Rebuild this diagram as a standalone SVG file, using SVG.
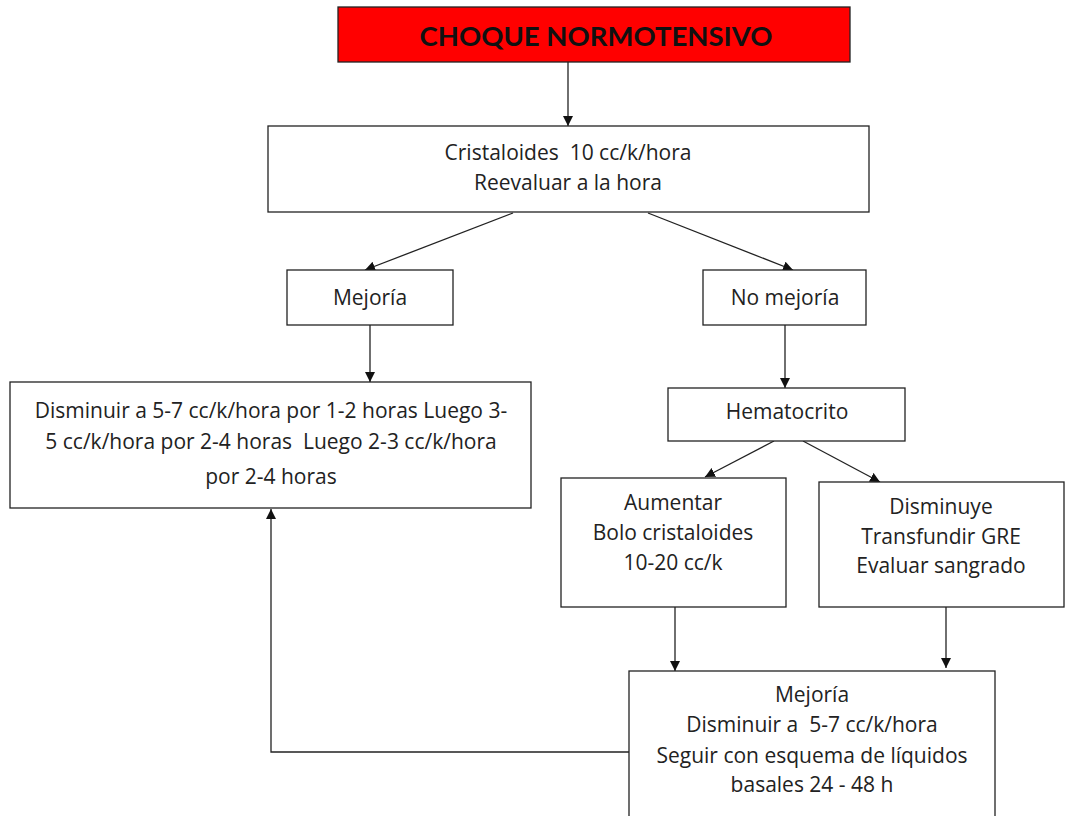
<svg xmlns="http://www.w3.org/2000/svg" width="1065" height="816" viewBox="0 0 1065 816">
<style>
.box{fill:#fff;stroke:#222;stroke-width:1.3}
.t{font-family:"Open Sans",Lato,"Liberation Sans",sans-serif;font-size:21px;fill:#222;text-anchor:middle;white-space:pre}
.c{fill:none;stroke:#222;stroke-width:1.3}
</style>
<defs>
<marker id="ah" viewBox="0 0 10 10" refX="10" refY="5" markerWidth="10" markerHeight="10" markerUnits="userSpaceOnUse" orient="auto">
<path d="M0,0 L10,5 L0,10 z" fill="#111"/>
</marker>
</defs>
<rect width="1065" height="816" fill="#fff"/>
<g id="connectors">
<line class="c" x1="568" y1="62" x2="568" y2="126" marker-end="url(#ah)"/>
<line class="c" x1="513" y1="213" x2="365" y2="270" marker-end="url(#ah)"/>
<line class="c" x1="648" y1="213" x2="793" y2="270" marker-end="url(#ah)"/>
<line class="c" x1="370" y1="325" x2="370" y2="382" marker-end="url(#ah)"/>
<line class="c" x1="785" y1="325" x2="785" y2="388" marker-end="url(#ah)"/>
<line class="c" x1="774" y1="441" x2="705" y2="477" marker-end="url(#ah)"/>
<line class="c" x1="803" y1="441" x2="880" y2="482" marker-end="url(#ah)"/>
<line class="c" x1="675" y1="607" x2="675" y2="671" marker-end="url(#ah)"/>
<line class="c" x1="946" y1="607" x2="946" y2="668" marker-end="url(#ah)"/>
<polyline class="c" points="629,752 271,752 271,509" marker-end="url(#ah)"/>
</g>
<g id="n-choque">
<rect x="338" y="7" width="512" height="55" fill="#ff0000" stroke="#222" stroke-width="1.3"/>
<text x="596" y="46" font-family="Lato,'Open Sans','Liberation Sans',sans-serif" font-size="27.5" font-weight="bold" fill="#111" text-anchor="middle">CHOQUE NORMOTENSIVO</text>
</g>
<g id="n-cristaloides">
<rect class="box" x="268" y="126" width="601" height="86"/>
<text class="t" x="568" y="160">Cristaloides  10 cc/k/hora</text>
<text class="t" x="568" y="190">Reevaluar a la hora</text>
</g>
<g id="n-mejoria">
<rect class="box" x="287" y="270" width="166" height="55"/>
<text class="t" x="370" y="305">Mejoría</text>
</g>
<g id="n-nomejoria">
<rect class="box" x="703" y="270" width="163" height="55"/>
<text class="t" x="785" y="305">No mejoría</text>
</g>
<g id="n-disminuir">
<rect class="box" x="10" y="382" width="521" height="126"/>
<text class="t" x="271" y="418">Disminuir a 5-7 cc/k/hora por 1-2 horas Luego 3-</text>
<text class="t" x="271" y="449">5 cc/k/hora por 2-4 horas  Luego 2-3 cc/k/hora</text>
<text class="t" x="271" y="484">por 2-4 horas</text>
</g>
<g id="n-hematocrito">
<rect class="box" x="668" y="388" width="237" height="53"/>
<text class="t" x="787" y="419">Hematocrito</text>
</g>
<g id="n-aumentar">
<rect class="box" x="561" y="478" width="225" height="129"/>
<text class="t" x="673" y="510">Aumentar</text>
<text class="t" x="673" y="540">Bolo cristaloides</text>
<text class="t" x="673" y="570">10-20 cc/k</text>
</g>
<g id="n-disminuye">
<rect class="box" x="819" y="482" width="245" height="125"/>
<text class="t" x="941" y="514">Disminuye</text>
<text class="t" x="941" y="544">Transfundir GRE</text>
<text class="t" x="941" y="573">Evaluar sangrado</text>
</g>
<g id="n-mejoria2">
<rect class="box" x="629" y="671" width="366" height="160"/>
<text class="t" x="812" y="702">Mejoría</text>
<text class="t" x="812" y="732">Disminuir a  5-7 cc/k/hora</text>
<text class="t" x="812" y="763">Seguir con esquema de líquidos</text>
<text class="t" x="812" y="792">basales 24 - 48 h</text>
</g>
</svg>
